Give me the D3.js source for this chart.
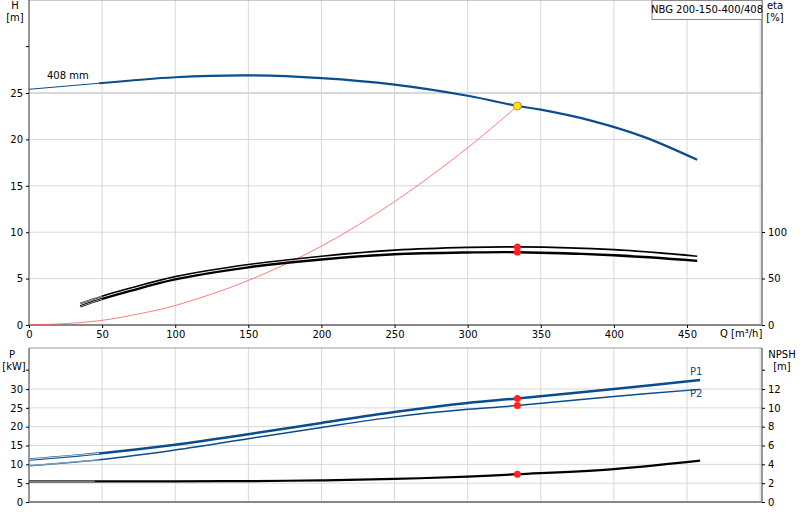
<!DOCTYPE html><html><head><meta charset="utf-8"><script src="https://cdn.jsdelivr.net/npm/d3@7"></script>
<style>body{margin:0;background:#fff}text{font-family:"DejaVu Sans",sans-serif;font-size:10px}</style></head><body>
<svg id="c" width="800" height="520"></svg>
<script>
const qTicks=[0,50,100,150,200,250,300,350,400,450];
const hTicks=[0,5,10,15,20,25];
const etaTicks=[0,50,100];
const pTicks=[0,5,10,15,20,25,30];
const npshTicks=[0,2,4,6,8,10,12];
const headQ=[0,48,100,150,200,250,300,334,350,385,420,457];
const headH=[25.4,26.05,26.7,26.9,26.6,25.9,24.7,23.6,23.2,22.0,20.3,17.8];
const sysQ=[0,25,50,75,100,150,200,250,300,334];
const sysH=[0,0.15,0.5,1.2,2.1,4.8,8.5,13.3,19.1,23.6];
const etaQ=[35,50,70,100,150,200,250,300,334,400,457];
const eta1=[23,31,40,52,65,74,80.5,83.5,84,81,74];
const eta2=[20,28,37,49,62,70.5,76,78,78.3,75,69];
const pQ=[0,48,100,150,200,250,300,334,400,459];
const p1=[11.3,12.9,15.2,18.0,21.0,23.9,26.3,27.5,30.0,32.4];
const p2=[9.6,11.2,13.8,16.8,19.8,22.6,24.6,25.6,28.0,29.9];
const npQ=[0,45,100,150,200,250,300,334,400,459];
const npsh=[2.2,2.2,2.2,2.22,2.3,2.45,2.7,2.95,3.5,4.4];
const dutyQ=334;

const svg=d3.select("#c");
const x=d3.scaleLinear().domain([0,450]).range([29,687]);
const yH=d3.scaleLinear().domain([0,25]).range([325,93]);
const yE=d3.scaleLinear().domain([0,100]).range([325,232]);
const yP=d3.scaleLinear().domain([0,30]).range([502,389]);
const yN=d3.scaleLinear().domain([0,12]).range([502,389]);
const grid="#d8d8d8";
function panel(y0,y1,yl,lt,rt,yr){
  const g=svg.append("g");
  [50,100,150,200,250,300,350,400,450,500].forEach(q=>g.append("line").attr("x1",x(q)).attr("x2",x(q)).attr("y1",y0).attr("y2",y1).attr("stroke",grid));
  lt.forEach(v=>{if(v>0)g.append("line").attr("x1",29).attr("x2",762).attr("y1",yl(v)).attr("y2",yl(v)).attr("stroke",grid).attr("stroke-width",v==25&&yl===yH?2:1)});
  g.append("line").attr("x1",29).attr("x2",762).attr("y1",y0).attr("y2",y0).attr("stroke","#999");
  g.append("line").attr("x1",29).attr("x2",29).attr("y1",y0).attr("y2",y1).attr("stroke","#333");
  g.append("line").attr("x1",762).attr("x2",762).attr("y1",y0).attr("y2",y1).attr("stroke","#333");
  g.append("line").attr("x1",29).attr("x2",762).attr("y1",y1).attr("y2",y1).attr("stroke","#888").attr("stroke-width",2);
  g.append("g").attr("transform","translate(29,0)").call(d3.axisLeft(yl).tickValues(lt).tickSize(3)).call(a=>{a.select(".domain").remove();a.selectAll("text").attr("fill","#000")});
  g.append("g").attr("transform","translate(762,0)").call(d3.axisRight(yr).tickValues(rt).tickSize(3)).call(a=>{a.select(".domain").remove();a.selectAll("text").attr("fill","#000")});
}
panel(0,325,yH,hTicks,etaTicks,yE);
panel(348,502,yP,pTicks,npshTicks,yN);
svg.append("line").attr("x1",26).attr("x2",29).attr("y1",yH(30)).attr("y2",yH(30)).attr("stroke","#000");
svg.append("line").attr("x1",26).attr("x2",29).attr("y1",yP(35)).attr("y2",yP(35)).attr("stroke","#000");
svg.append("line").attr("x1",762).attr("x2",765).attr("y1",yN(14)).attr("y2",yN(14)).attr("stroke","#000");
svg.append("g").attr("transform","translate(0,325)").call(d3.axisBottom(x).tickValues(qTicks).tickSize(3)).call(a=>a.select(".domain").remove());
const T=(t,xx,yy,a)=>svg.append("text").attr("x",xx).attr("y",yy).attr("text-anchor",a||"start").text(t);
T("H",15,9,"middle");T("[m]",15,21,"middle");T("eta",775,9,"middle");T("[%]",775,21,"middle");
T("P",12,358,"middle");T("[kW]",14,370,"middle");T("NPSH",782,358,"middle");T("[m]",782,370,"middle");
T("Q [m³/h]",720,337);T("408 mm",47,79);
svg.append("rect").attr("x",652).attr("y",0.5).attr("width",110).attr("height",19).attr("fill","#fff").attr("stroke","#888");
T("NBG 200-150-400/408",707,13,"middle");
const ln=(xs,ys,ysc)=>d3.line().x((d,i)=>x(xs[i])).y(d=>ysc(d)).curve(d3.curveCatmullRom)(ys);
const path=(d,c,w)=>svg.append("path").attr("d",d).attr("fill","none").attr("stroke",c).attr("stroke-width",w);
const blue="#0a4d8c";
path(ln(sysQ,sysH,yH),"#ff5a5a",0.8);
path(ln(headQ.slice(0,2),headH.slice(0,2),yH),blue,1);
path(ln(headQ.slice(1),headH.slice(1),yH),blue,2.2);
path(ln(etaQ,eta1,yE),"#000",1.6);
path(ln(etaQ,eta2,yE),"#000",2.4);
path(ln(etaQ.slice(0,2),eta1.slice(0,2),yE),"#fff",0.6);
path(ln(etaQ.slice(0,2),eta2.slice(0,2),yE),"#fff",0.6);
[[p1,2.5,0.8],[p2,1.5,0.5]].forEach(([p,w,iw])=>{path(ln(pQ,p,yP),blue,w);path(ln(pQ.slice(0,2),p.slice(0,2),yP),"#fff",iw);});
path(ln(npQ,npsh,yN),"#000",2.2);
path(ln(npQ.slice(0,2),npsh.slice(0,2),yN),"#fff",0.6);
T("P1",690,375).attr("fill",blue);T("P2",690,397).attr("fill",blue);
const ip=(xs,ys)=>d3.scaleLinear().domain(xs).range(ys)(dutyQ);
const dot=(cy,f,r)=>svg.append("circle").attr("cx",x(dutyQ)).attr("cy",cy).attr("r",r||3.5).attr("fill",f).attr("stroke",f=="#ffe600"?"#e08020":"none");
dot(yE(ip(etaQ,eta1)),"#f22");dot(yE(ip(etaQ,eta2)),"#f22");
dot(yP(ip(pQ,p1)),"#f22");dot(yP(ip(pQ,p2)),"#f22");dot(yN(ip(npQ,npsh)),"#f22");
dot(yH(ip(headQ,headH)),"#ffe600",4);
</script></body></html>
